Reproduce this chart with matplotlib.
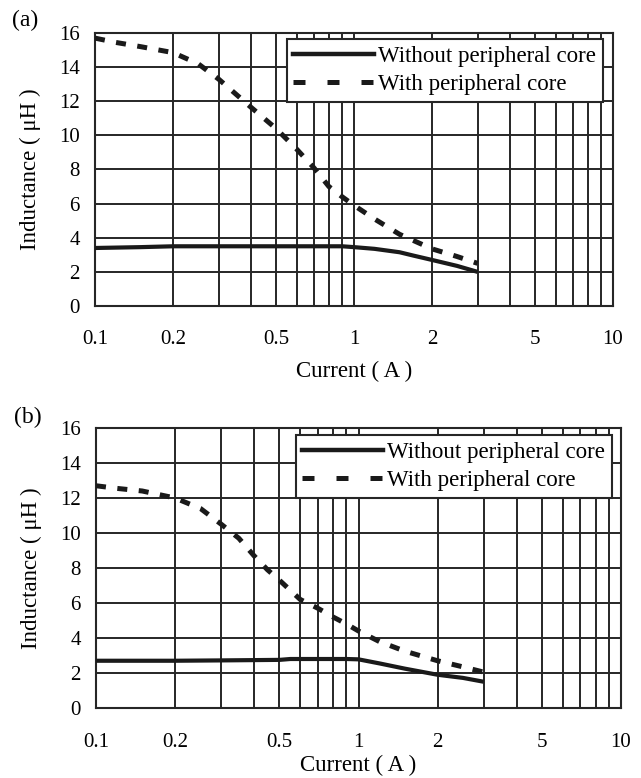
import matplotlib
matplotlib.use("Agg")
import matplotlib.pyplot as plt
from matplotlib.lines import Line2D
from matplotlib.ticker import FixedLocator, NullFormatter

plt.rcParams['font.family'] = ['Liberation Serif', 'DejaVu Serif']

# ---- data ----
xticks = [0.1, 0.2, 0.5, 1, 2, 5, 10]
xtick_labels = ["0.1", "0.2", "0.5", "1", "2", "5", "10"]
yticks = [0, 2, 4, 6, 8, 10, 12, 14, 16]

# panel (a)
a_without_x = [0.1, 0.15, 0.2, 0.3, 0.5, 0.7, 0.9, 1.0, 1.2, 1.5, 1.7, 2.0, 2.5, 3.0]
a_without_y = [3.4, 3.45, 3.5, 3.5, 3.5, 3.5, 3.5, 3.45, 3.35, 3.15, 2.95, 2.7, 2.35, 2.0]
a_with_x = [0.1, 0.12, 0.15, 0.2, 0.25, 0.3, 0.4, 0.5, 0.6, 0.7, 0.8, 0.9, 1.0, 1.2, 1.5, 2.0, 2.5, 3.0]
a_with_y = [15.7, 15.45, 15.2, 14.85, 14.2, 13.3, 11.65, 10.4, 9.2, 8.1, 7.0, 6.4, 5.9, 5.1, 4.2, 3.35, 2.9, 2.5]

# panel (b)
b_without_x = [0.1, 0.2, 0.3, 0.5, 0.55, 0.7, 0.9, 1.0, 1.2, 1.5, 2.0, 2.5, 3.0]
b_without_y = [2.7, 2.7, 2.72, 2.75, 2.8, 2.8, 2.8, 2.78, 2.55, 2.25, 1.9, 1.72, 1.5]
b_with_x = [0.1, 0.12, 0.15, 0.2, 0.25, 0.3, 0.35, 0.4, 0.45, 0.5, 0.6, 0.7, 0.8, 0.9, 1.0, 1.2, 1.5, 2.0, 2.5, 3.0]
b_with_y = [12.7, 12.55, 12.4, 12.0, 11.4, 10.5, 9.7, 8.7, 7.9, 7.3, 6.2, 5.7, 5.2, 4.8, 4.4, 3.8, 3.25, 2.7, 2.35, 2.05]

labels = ["Without peripheral core", "With peripheral core"]
panel_tags = ["(a)", "(b)"]
xlabel = "Current ( A )"
ylabel = "Inductance ( \u03bcH )"

fig = plt.figure(figsize=(6.41, 7.78), dpi=100)
W, H = 641, 778

def px_axes(l, r, t, b):
    return fig.add_axes([l / W, 1 - b / H, (r - l) / W, (b - t) / H])

ax_a = px_axes(95, 613, 33, 306)
ax_b = px_axes(96, 621, 428, 708)

line_col = "#1a1a1a"
grid_col = "#262626"
minor = [k * 10.0 ** e for e in (-1, 0) for k in range(2, 10)]

def style(ax, xs1, ys1, xs2, ys2, leg_box, tag, tag_pos, xlabpad, xtickpad):
    ax.set_xscale("log")
    ax.set_xlim(0.1, 10)
    ax.set_ylim(0, 16)
    ax.xaxis.set_major_locator(FixedLocator(xticks))
    ax.set_xticklabels(xtick_labels)
    ax.xaxis.set_minor_locator(FixedLocator(minor))
    ax.xaxis.set_minor_formatter(NullFormatter())
    ax.set_yticks(yticks)
    ax.tick_params(axis="both", which="both", length=0, labelsize=15)
    ax.tick_params(axis="x", pad=xtickpad)
    ax.tick_params(axis="y", pad=11)
    ax.grid(True, which="both", axis="x", color=grid_col, lw=1.4)
    ax.grid(True, which="major", axis="y", color=grid_col, lw=1.4)
    for s in ax.spines.values():
        s.set_color(grid_col)
        s.set_linewidth(1.5)
    ax.plot(xs1, ys1, color=line_col, lw=3.0, solid_capstyle="butt", zorder=3)
    ax.plot(xs2, ys2, color=line_col, lw=3.6, linestyle=(0, (2.0, 2.3)),
            dash_capstyle="butt", zorder=3)
    ax.set_ylabel(ylabel, fontsize=16.5, labelpad=13)
    ax.set_xlabel(xlabel, fontsize=16.5, labelpad=xlabpad)
    handles = [
        Line2D([], [], color=line_col, lw=3.2),
        Line2D([], [], color=line_col, lw=3.6, linestyle=(0, (2.4, 4.4)),
               dash_capstyle="butt"),
    ]
    l, r, t, b = leg_box
    leg = ax.legend(handles, labels, loc="upper right",
                    bbox_to_anchor=(r / W, 1 - t / H),
                    bbox_transform=fig.transFigure,
                    fontsize=16.5, frameon=True, fancybox=False,
                    handlelength=3.5, handletextpad=0.2,
                    borderpad=0.3, labelspacing=0.3,
                    borderaxespad=0.0, framealpha=1.0)
    leg.get_frame().set_edgecolor(grid_col)
    leg.get_frame().set_linewidth(1.5)
    fig.text(tag_pos[0] / W, 1 - tag_pos[1] / H, tag, fontsize=17,
             ha="center", va="center")

style(ax_a, a_without_x, a_without_y, a_with_x, a_with_y,
      (275, 603, 39, 102), panel_tags[0], (25, 20), 9, 17)
style(ax_b, b_without_x, b_without_y, b_with_x, b_with_y,
      (281, 612, 435, 503), panel_tags[1], (28, 417), 2, 18)

fig.savefig("out.png", dpi=100)
